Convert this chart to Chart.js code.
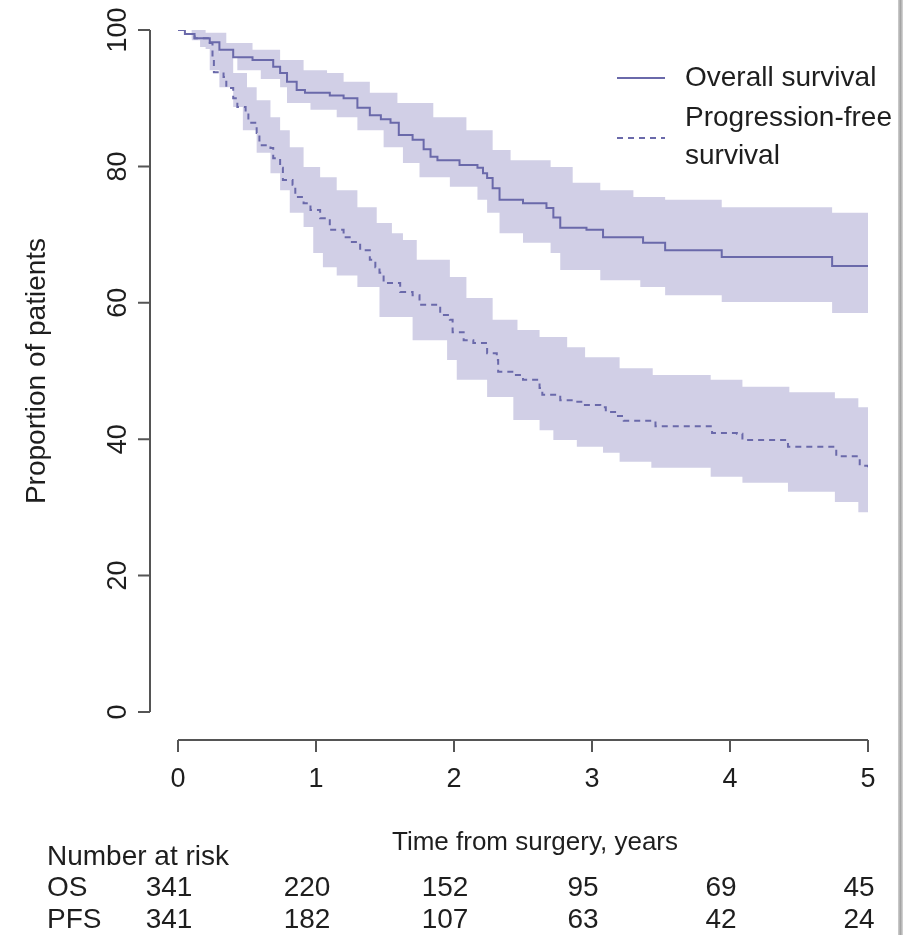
<!DOCTYPE html>
<html lang="en">
<head>
    <meta charset="UTF-8">
    <title>Overall and progression-free survival</title>
    <script src="https://cdn.jsdelivr.net/npm/chart.js"></script>
    <style>
        body {
            margin: 0;
            background: white;
            font-family: "Liberation Sans", Arial, sans-serif;
        }
        #wrap {
            position: relative;
            width: 915px;
            height: 935px;
        }
        #edge {
            position: absolute;
            left: 898px;
            top: 0;
            width: 5px;
            height: 935px;
            background: linear-gradient(to right, #d0d0d0, #a4a4a4, #dadada);
        }
        canvas {
            display: block;
        }
    </style>
</head>
<body>
<div id="wrap">
    <canvas id="kmChart" width="915" height="935"></canvas>
    <div id="edge"></div>
</div>
<script>
// Kaplan-Meier estimates (time in years, % of patients)
const osTimes  = [0, 0.05, 0.12, 0.23, 0.30, 0.40, 0.54, 0.69, 0.74, 0.79, 0.86, 0.92, 1.10, 1.20, 1.30, 1.39, 1.47, 1.54, 1.60, 1.70, 1.78, 1.83, 1.88, 2.04, 2.17, 2.21, 2.24, 2.28, 2.33, 2.50, 2.67, 2.72, 2.77, 2.96, 3.08, 3.37, 3.53, 3.94, 4.74, 5.0];
const osValues = [100, 99.4, 98.8, 98.2, 97.1, 96.0, 95.6, 94.6, 93.7, 92.4, 91.2, 90.8, 90.4, 90.0, 88.6, 87.5, 86.9, 86.4, 84.6, 83.9, 82.5, 81.4, 80.9, 80.2, 79.8, 79.0, 78.3, 76.8, 75.1, 74.6, 73.9, 72.5, 71.0, 70.7, 69.6, 68.8, 67.7, 66.7, 65.4, 65.4];

const osUpperTimes  = [0, 0.20, 0.35, 0.54, 0.74, 0.91, 1.08, 1.20, 1.39, 1.59, 1.85, 2.09, 2.28, 2.41, 2.70, 2.86, 3.06, 3.30, 3.53, 3.94, 4.74, 5.0];
const osUpperValues = [100, 99.6, 98.1, 97.1, 95.6, 94.1, 93.7, 92.4, 90.8, 89.3, 87.2, 85.3, 82.4, 80.9, 79.9, 77.6, 76.5, 75.5, 75.1, 74.0, 73.2, 73.2];
const osLowerTimes  = [0, 0.10, 0.20, 0.30, 0.43, 0.60, 0.74, 0.79, 0.96, 1.15, 1.30, 1.49, 1.63, 1.75, 1.97, 2.17, 2.24, 2.33, 2.50, 2.70, 2.77, 3.06, 3.35, 3.53, 3.94, 4.74, 5.0];
const osLowerValues = [100, 98.5, 97.2, 96.0, 94.1, 92.8, 91.6, 89.3, 88.3, 87.2, 85.3, 82.8, 80.5, 78.4, 77.0, 75.1, 73.2, 70.2, 68.8, 67.3, 64.8, 63.3, 62.3, 61.1, 60.1, 58.5, 58.5];

const pfsTimes  = [0, 0.05, 0.12, 0.23, 0.25, 0.26, 0.33, 0.35, 0.40, 0.43, 0.49, 0.51, 0.57, 0.59, 0.67, 0.69, 0.74, 0.76, 0.83, 0.85, 0.91, 0.96, 1.03, 1.10, 1.20, 1.26, 1.32, 1.39, 1.43, 1.46, 1.49, 1.61, 1.70, 1.75, 1.90, 1.97, 1.99, 2.07, 2.14, 2.24, 2.31, 2.32, 2.43, 2.50, 2.62, 2.64, 2.77, 2.86, 2.93, 3.06, 3.10, 3.18, 3.23, 3.46, 3.87, 4.05, 4.09, 4.42, 4.77, 4.94, 5.0];
const pfsValues = [100, 99.4, 98.8, 98.1, 96.0, 93.8, 93.1, 91.5, 90.0, 88.7, 87.8, 86.4, 84.9, 83.1, 82.7, 81.2, 79.8, 78.0, 77.3, 75.5, 74.6, 73.6, 72.4, 70.7, 69.6, 68.9, 67.7, 66.3, 65.2, 64.4, 62.9, 61.6, 61.1, 59.7, 58.2, 57.5, 55.7, 54.5, 54.1, 52.6, 51.6, 49.9, 49.4, 48.7, 47.5, 46.5, 45.7, 45.5, 45.0, 44.7, 44.0, 43.4, 42.7, 41.9, 40.9, 40.8, 39.9, 38.9, 37.5, 36.1, 35.9];

const pfsUpperTimes  = [0, 0.16, 0.23, 0.30, 0.40, 0.50, 0.57, 0.67, 0.74, 0.81, 0.91, 1.03, 1.15, 1.30, 1.44, 1.55, 1.63, 1.73, 1.97, 2.09, 2.28, 2.46, 2.62, 2.82, 2.95, 3.20, 3.44, 3.86, 4.09, 4.43, 4.76, 4.93, 5.0];
const pfsUpperValues = [100, 99.0, 97.5, 96.6, 93.7, 91.6, 89.7, 87.2, 85.3, 82.8, 79.9, 78.4, 76.5, 74.0, 71.7, 70.2, 69.2, 66.3, 63.8, 60.7, 57.5, 56.0, 55.0, 53.5, 52.0, 50.4, 49.4, 48.7, 47.7, 46.9, 46.0, 44.7, 44.7];
const pfsLowerTimes  = [0, 0.10, 0.16, 0.23, 0.30, 0.40, 0.47, 0.57, 0.67, 0.74, 0.81, 0.91, 0.98, 1.05, 1.15, 1.30, 1.46, 1.70, 1.95, 2.02, 2.24, 2.43, 2.62, 2.72, 2.89, 3.08, 3.20, 3.43, 3.86, 4.09, 4.42, 4.76, 4.93, 5.0];
const pfsLowerValues = [100, 98.8, 97.5, 94.1, 91.6, 88.7, 85.3, 82.0, 79.0, 76.5, 73.2, 71.1, 67.3, 65.2, 64.0, 62.3, 57.9, 54.5, 51.6, 48.7, 46.2, 42.8, 41.3, 39.9, 38.9, 38.0, 36.7, 35.8, 34.5, 33.6, 32.3, 30.8, 29.3, 29.3];

// axes and number-at-risk table
const xTicks = [0, 1, 2, 3, 4, 5];
const yTicks = [0, 20, 40, 60, 80, 100];
const riskLabels = ['OS', 'PFS'];
const riskOS  = [341, 220, 152, 95, 69, 45];
const riskPFS = [341, 182, 107, 63, 42, 24];

const lineColor = '#6a69aa';
const bandColor = '#d1cfe6';
const inkColor = '#1e1e1e';
const axisColor = '#555555';
const font = '"Liberation Sans", Arial, sans-serif';

const toPoints = (xs, ys) => xs.map((x, i) => ({ x: x, y: ys[i] }));

function kmLine(label, xs, ys, dash) {
    return {
        label: label,
        data: toPoints(xs, ys),
        borderColor: lineColor,
        borderWidth: 2,
        borderDash: dash,
        stepped: 'before',
        pointRadius: 0,
        fill: false,
    };
}

function band(label, xs, ys, fill) {
    return {
        label: label,
        data: toPoints(xs, ys),
        borderColor: 'rgba(0,0,0,0)',
        borderWidth: 0,
        backgroundColor: bandColor,
        stepped: 'before',
        pointRadius: 0,
        fill: fill,
    };
}

// R style axes, legend and risk table drawn from the chart's own scales
const rDecorations = {
    id: 'rDecorations',
    afterDraw(chart) {
        const ctx = chart.ctx;
        const xs = chart.scales.x;
        const ys = chart.scales.y;
        const axisX = xs.left - 28;
        const axisY = ys.bottom + 28;
        ctx.save();
        ctx.strokeStyle = axisColor;
        ctx.lineWidth = 2;
        ctx.fillStyle = inkColor;

        // y axis
        ctx.beginPath();
        ctx.moveTo(axisX, ys.getPixelForValue(yTicks[0]));
        ctx.lineTo(axisX, ys.getPixelForValue(yTicks[yTicks.length - 1]));
        yTicks.forEach(v => {
            const py = ys.getPixelForValue(v);
            ctx.moveTo(axisX, py);
            ctx.lineTo(axisX - 12, py);
        });
        ctx.stroke();
        ctx.font = '27px ' + font;
        ctx.textAlign = 'center';
        ctx.textBaseline = 'middle';
        yTicks.forEach(v => {
            ctx.save();
            ctx.translate(axisX - 31, ys.getPixelForValue(v));
            ctx.rotate(-Math.PI / 2);
            ctx.fillText(String(v), 0, 0);
            ctx.restore();
        });
        ctx.font = '28px ' + font;
        ctx.save();
        ctx.translate(37, (ys.top + ys.bottom) / 2);
        ctx.rotate(-Math.PI / 2);
        ctx.fillText('Proportion of patients', 0, 0);
        ctx.restore();

        // x axis
        ctx.beginPath();
        ctx.moveTo(xs.getPixelForValue(xTicks[0]), axisY);
        ctx.lineTo(xs.getPixelForValue(xTicks[xTicks.length - 1]), axisY);
        xTicks.forEach(v => {
            const px = xs.getPixelForValue(v);
            ctx.moveTo(px, axisY);
            ctx.lineTo(px, axisY + 12);
        });
        ctx.stroke();
        ctx.font = '27px ' + font;
        xTicks.forEach(v => {
            ctx.fillText(String(v), xs.getPixelForValue(v), axisY + 40);
        });
        ctx.font = '26px ' + font;
        ctx.fillText('Time from surgery, years', (xs.left + xs.right) / 2 + 12, axisY + 103);

        // number at risk
        ctx.font = '28px ' + font;
        ctx.textAlign = 'left';
        ctx.fillText('Number at risk', 47, 857);
        ctx.fillText(riskLabels[0], 47, 888);
        ctx.fillText(riskLabels[1], 47, 920);
        ctx.textAlign = 'center';
        xTicks.forEach((v, i) => {
            const px = xs.getPixelForValue(v) - 9;
            ctx.fillText(String(riskOS[i]), px, 888);
            ctx.fillText(String(riskPFS[i]), px, 920);
        });

        // legend
        const dsOS = chart.data.datasets[0];
        const dsPFS = chart.data.datasets[1];
        ctx.strokeStyle = dsOS.borderColor;
        ctx.lineWidth = 2;
        ctx.beginPath();
        ctx.moveTo(617, 78);
        ctx.lineTo(665, 78);
        ctx.stroke();
        ctx.setLineDash(dsPFS.borderDash);
        ctx.beginPath();
        ctx.moveTo(617, 138);
        ctx.lineTo(665, 138);
        ctx.stroke();
        ctx.setLineDash([]);
        ctx.textAlign = 'left';
        ctx.fillText(dsOS.label, 685, 78);
        ctx.fillText('Progression-free', 685, 118);
        ctx.fillText('survival', 685, 156);
        ctx.restore();
    }
};

const chart = new Chart(document.getElementById('kmChart').getContext('2d'), {
    type: 'line',
    data: {
        datasets: [
            kmLine('Overall survival', osTimes, osValues, []),
            kmLine('Progression-free survival', pfsTimes, pfsValues, [6, 5]),
            band('OS upper', osUpperTimes, osUpperValues, '+1'),
            band('OS lower', osLowerTimes, osLowerValues, false),
            band('PFS upper', pfsUpperTimes, pfsUpperValues, '+1'),
            band('PFS lower', pfsLowerTimes, pfsLowerValues, false),
        ],
    },
    options: {
        responsive: false,
        animation: false,
        layout: {
            padding: { left: 178, right: 47, top: 30, bottom: 223 },
        },
        scales: {
            x: { type: 'linear', min: 0, max: 5, display: false },
            y: { min: 0, max: 100, display: false },
        },
        plugins: {
            legend: { display: false },
            tooltip: { enabled: false },
            filler: { drawTime: 'beforeDatasetsDraw' },
        },
    },
    plugins: [rDecorations],
});
</script>
</body>
</html>
